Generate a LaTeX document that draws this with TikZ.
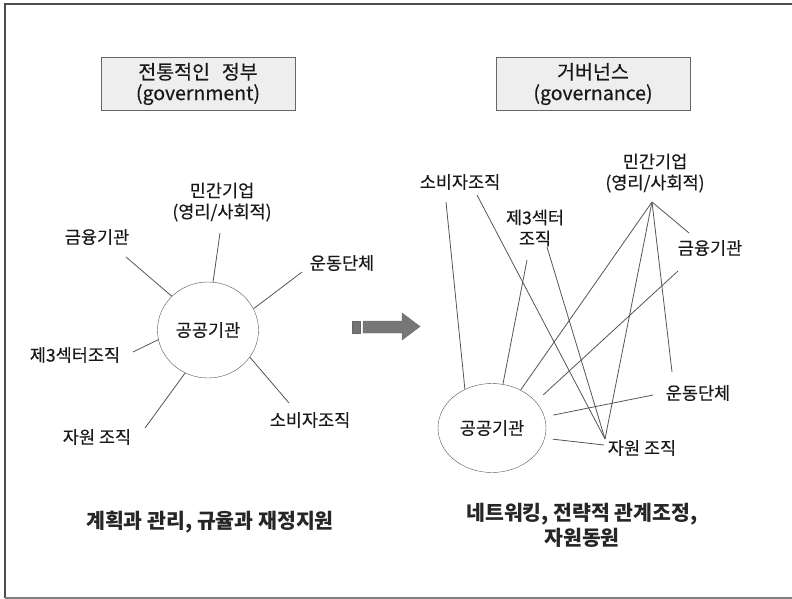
\documentclass[tikz,border=0pt]{standalone}
\usepackage{fontspec}
\setmainfont{Noto Sans CJK KR}
\newfontfamily\krtext{Noto Sans CJK KR}[FakeBold=0.3]
\usepackage{tikz}
\usepackage{xcolor}
\usetikzlibrary{shapes.geometric}

\definecolor{linegray}{HTML}{555555}
\definecolor{boxfill}{HTML}{EEEEEE}
\definecolor{arrowgray}{HTML}{777777}

\tikzset{
  hdr/.style={draw=black!60, fill=boxfill, minimum width=194pt, minimum height=53pt, align=center, text=black!90, font=\krtext\fontsize{19.5}{21}\selectfont},
  lbl/.style={align=center, inner sep=1pt, text=black!90, font=\krtext\fontsize{17.5}{21}\selectfont},
  link/.style={draw=linegray, line width=0.8pt},
  summary/.style={align=center, text=black!85, font=\bfseries\fontsize{20.5}{25}\selectfont}
}

\begin{document}
\begin{tikzpicture}[x=1pt, y=-1pt]
\useasboundingbox (0,0) rectangle (792,599);
% frame
\draw[black!70, line width=1.5pt] (792,4) -- (5,4) -- (5,598);
\draw[black!50, line width=1.2pt] (5,598) -- (792,598);

% government
\node[hdr] (lhead) at (198,84) {전통적인\hspace{0.6em}정부\\(government)};
\node[draw=linegray, ellipse, minimum width=101pt, minimum height=96pt, lbl] (lpub) at (208,330) {공공기관};
\node[lbl] (lbiz) at (222,202) {민간기업\\(영리/사회적)};
\node[lbl] (lfin) at (97,237) {금융기관};
\node[lbl] (lmov) at (342,263) {운동단체};
\node[lbl] (l3rd) at (75,355) {제3섹터조직};
\node[lbl] (lres) at (97,437) {자원 조직};
\node[lbl] (lcon) at (310,420) {소비자조직};

\coordinate (lbiz-s) at (220,233);
\coordinate (lfin-e) at (126,257);
\coordinate (lmov-w) at (302,272);
\coordinate (l3rd-e) at (133,352);
\coordinate (lres-e) at (145,428);
\coordinate (lcon-n) at (289,403);

\draw[link] (lpub.84) -- (lbiz-s);
\draw[link] (lpub.137) -- (lfin-e);
\draw[link] (lpub.25) -- (lmov-w);
\draw[link] (lpub.191) -- (l3rd-e);
\draw[link] (lpub.242) -- (lres-e);
\draw[link] (lpub.327) -- (lcon-n);

\node[summary] (lsum) at (210,522) {계획과 관리, 규율과 재정지원};

% arrow
\fill[arrowgray, draw=black!60] (363,321) -- (402,321) -- (402,313) -- (420,326.5) -- (402,340) -- (402,333) -- (363,333) -- cycle;
\fill[black!55, draw=black!60] (352,321) rectangle (360,333);

% governance
\node[hdr] (rhead) at (593,84) {거버넌스\\(governance)};
\node[draw=linegray, ellipse, minimum width=108pt, minimum height=89pt, lbl] (rpub) at (492,428) {공공기관};
\node[lbl] (rcon) at (460,182) {소비자조직};
\node[lbl] (rbiz) at (655,173) {민간기업\\(영리/사회적)};
\node[lbl] (r3rd) at (535,228) {제3섹터\\조직};
\node[lbl] (rfin) at (710,248) {금융기관};
\node[lbl] (rmov) at (698,393) {운동단체};
\node[lbl] (rres) at (642,448) {자원 조직};

\coordinate (rhub) at (652,202);
\coordinate (rcon-a) at (446,202);
\coordinate (rcon-b) at (477,195);
\coordinate (r3rd-a) at (527,260);
\coordinate (r3rd-b) at (547,247);
\coordinate (rfin-a) at (689,233);
\coordinate (rfin-b) at (678,271);
\coordinate (rmov-a) at (672,372);
\coordinate (rmov-b) at (653,395);
\coordinate (rres-a) at (605,439);
\coordinate (rres-b) at (604,445);

\draw[link] (rcon-a) -- (rpub.125);
\draw[link] (rcon-b) -- (rres-a);
\draw[link] (r3rd-a) -- (rpub.76);
\draw[link] (r3rd-b) -- (rres-a);
\draw[link] (rhub) -- (rpub.53);
\draw[link] (rhub) -- (rfin-a);
\draw[link] (rhub) -- (rmov-a);
\draw[link] (rhub) -- (rres-a);
\draw[link, shorten >=10pt] (rfin-b) -- (rpub.31);
\draw[link, shorten >=9pt] (rmov-b) -- (rpub.12);
\draw[link, shorten >=8pt] (rres-b) -- (rpub.-11);

\node[summary] (rsum) at (582,525) {네트워킹, 전략적 관계조정,\\자원동원};
\end{tikzpicture}
\end{document}
